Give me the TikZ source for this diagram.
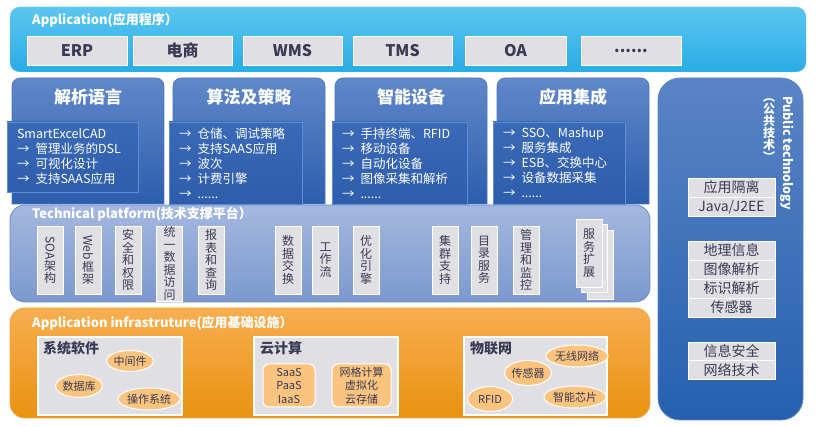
\documentclass[tikz,border=0pt]{standalone}
\usepackage{fontspec}
\setmainfont{Noto Sans CJK SC}
\usetikzlibrary{shapes.geometric}

\definecolor{barTop}{HTML}{5CC6F1}
\definecolor{barBot}{HTML}{29ACE4}
\definecolor{boxGray}{HTML}{E0E0E4}
\definecolor{inkDark}{HTML}{3A3A54}
\definecolor{tabTop}{HTML}{6088CA}
\definecolor{tabBot}{HTML}{2C5EAC}
\definecolor{listTop}{HTML}{3A6AB7}
\definecolor{listBot}{HTML}{2D5DAB}
\definecolor{listLine}{HTML}{5F8DD4}
\definecolor{platTop}{HTML}{A4B8DF}
\definecolor{platBot}{HTML}{7B98CE}
\definecolor{platLine}{HTML}{6A8BC8}
\definecolor{infraTop}{HTML}{F8AE50}
\definecolor{infraBot}{HTML}{E99210}
\definecolor{infraLine}{HTML}{F2A444}
\definecolor{ovalFill}{HTML}{FAC47E}
\definecolor{pubTop}{HTML}{5A84C6}
\definecolor{pubBot}{HTML}{2560AE}

\newcommand{\fsz}[2]{\fontsize{#1}{#2}\selectfont}
\newcommand{\listarrow}{→\hspace{6pt}}

\begin{document}
\begin{tikzpicture}[
    x=1pt, y=-1pt,
    titletext/.style={anchor=west, inner sep=0pt, text=white, font=\fsz{13}{13}\bfseries},
    appbox/.style={draw=white, line width=0.8pt, fill=boxGray, inner sep=0pt, minimum width=100pt, minimum height=29pt, text=inkDark, font=\fsz{16}{16}\bfseries},
    tabshade/.style={top color=tabTop, bottom color=tabBot, draw=tabBot!85!white, line width=0.6pt},
    tablabel/.style={text=white, font=\fsz{17}{17}\bfseries},
    listbox/.style={draw=listLine, line width=0.8pt, top color=listTop, bottom color=listBot, inner xsep=10pt, inner ysep=0pt, align=left, text=white, font=\fsz{12.5}{15}},
    vbox/.style={draw=white, line width=0.8pt, fill=boxGray, inner sep=0pt, minimum width=26pt, text width=24pt, align=center, text=inkDark, font=\fsz{12}{12.5}},
    groupbox/.style={draw=white, line width=1.2pt, fill=boxGray, inner sep=0pt, minimum width=144pt, minimum height=78pt},
    grouptitle/.style={anchor=west, inner sep=0pt, text=inkDark, font=\fsz{14}{14}\bfseries},
    oval/.style={ellipse, draw=white, line width=1pt, fill=ovalFill, inner sep=0pt, text=inkDark, font=\fsz{11}{11}},
    cloudbox/.style={rounded corners=6pt, draw=white, line width=1pt, fill=ovalFill, inner sep=0pt, align=center, text=inkDark, font=\fsz{11}{13.5}},
    pubrow/.style={draw=white, line width=0.8pt, fill=boxGray, inner sep=0pt, minimum width=87pt, minimum height=19pt, text=inkDark, font=\fsz{14}{14}}
]
    \useasboundingbox (0,0) rectangle (820,427);

    % application layer
    \node[rounded corners=10pt, top color=barTop, bottom color=barBot, draw=barTop, minimum width=796pt, minimum height=65pt] (appbar) at (408,39.5) {};
    \node[titletext] (apptitle) at (32,20) {Application(应用程序）};
    \node[appbox] (erp) at (77,50.5) {ERP};
    \node[appbox, minimum width=99pt] (ecom) at (182.5,50.5) {电商};
    \node[appbox, minimum width=99pt] (wms) at (292.5,50.5) {WMS};
    \node[appbox, minimum width=99pt] (tms) at (402.5,50.5) {TMS};
    \node[appbox, minimum width=101pt] (oa) at (515.5,50.5) {OA};
    \node[appbox] (moreapp) at (631,50.5) {......};

    % blue tabs
    \foreach \tx in {12,173,335,497} {
        \shade[tabshade] (\tx,204) -- (\tx,86) arc[start angle=180, end angle=270, radius=8]
            -- (\tx+144,78) arc[start angle=270, end angle=360, radius=8] -- (\tx+152,204) -- cycle;
    }
    \node[tablabel] (parse) at (88,97) {解析语言};
    \node[tablabel] (algo) at (249,97) {算法及策略};
    \node[tablabel] (device) at (411,97) {智能设备};
    \node[tablabel] (integ) at (573,97) {应用集成};

    % technical platform
    \node[rounded corners=15pt, top color=platTop, bottom color=platBot, draw=platLine, line width=0.8pt, minimum width=640pt, minimum height=97pt] (techplat) at (330,253.5) {};

    \node[listbox, text width=111pt, minimum height=70pt] (parselist) at (72.5,157) {SmartExcelCAD\\\listarrow 管理业务的DSL\\\listarrow 可视化设计\\\listarrow 支持SAAS应用};
    \node[listbox, text width=113pt, minimum height=82pt] (algolist) at (235.5,163) {\listarrow 仓储、调试策略\\\listarrow 支持SAAS应用\\\listarrow 波次\\\listarrow 计费引擎\\\listarrow ......};
    \node[listbox, text width=115pt, minimum height=82pt] (devicelist) at (399.5,163) {\listarrow 手持终端、RFID\\\listarrow 移动设备\\\listarrow 自动化设备\\\listarrow 图像采集和解析\\\listarrow ......};
    \node[listbox, text width=112pt, minimum height=82pt] (integlist) at (559,163) {\listarrow SSO、Mashup\\\listarrow 服务集成\\\listarrow ESB、交换中心\\\listarrow 设备数据采集\\\listarrow ......};

    \node[titletext] (techtitle) at (32,214) {Technical platform(技术支撑平台）};
    \node[vbox, minimum height=68pt] (soa) at (50,260) {\rotatebox{-90}{SOA}\\架\\构};
    \node[vbox, minimum height=68pt] (web) at (88,260) {\rotatebox{-90}{Web}\\框\\架};
    \node[vbox, minimum height=68pt] (secure) at (128,260) {安\\全\\和\\权\\限};
    \node[vbox, minimum height=75pt] (dataacc) at (169.5,263.5) {统\\一\\数\\据\\访\\问};
    \node[vbox, minimum height=68pt] (report) at (211,260) {报\\表\\和\\查\\询};
    \node[vbox, minimum height=68pt] (dataex) at (288,260) {数\\据\\交\\换};
    \node[vbox, minimum height=68pt] (flow) at (325.5,260) {工\\作\\流};
    \node[vbox, minimum height=68pt] (optim) at (366,260) {优\\化\\引\\擎};
    \node[vbox, minimum height=68pt] (cluster) at (445,260) {集\\群\\支\\持};
    \node[vbox, minimum height=68pt] (dirsvc) at (484,260) {目\\录\\服\\务};
    \node[vbox, minimum height=68pt] (monitor) at (526,260) {管\\理\\和\\监\\控};
    \node[vbox, minimum height=69pt] (page3) at (600,264.5) {};
    \node[vbox, minimum height=68pt] (page2) at (594,258) {};
    \node[vbox, minimum height=68pt] (svcext) at (589,253) {服\\务\\扩\\展};

    % application infrastructure
    \node[rounded corners=15pt, top color=infraTop, bottom color=infraBot, draw=infraLine, line width=0.8pt, minimum width=640pt, minimum height=110pt] (infra) at (330,363) {};
    \node[titletext] (infratitle) at (32,323) {Application infrastruture(应用基础设施）};

    \node[groupbox] (syssoft) at (110,376) {};
    \node[grouptitle] (syssofttitle) at (43,348) {系统软件};
    \node[oval, minimum width=46pt, minimum height=21pt] (middleware) at (130,361) {中间件};
    \node[oval, minimum width=45pt, minimum height=23pt] (database) at (79,386) {数据库};
    \node[oval, minimum width=58pt, minimum height=22pt] (opsys) at (149,399) {操作系统};

    \node[groupbox] (cloud) at (326,376) {};
    \node[grouptitle] (cloudtitle) at (260,348) {云计算};
    \node[cloudbox, minimum width=52pt, minimum height=43pt] (saas) at (289,385.5) {SaaS\\PaaS\\IaaS};
    \node[cloudbox, minimum width=59pt, minimum height=43pt] (grid) at (361.5,385.5) {网格计算\\虚拟化\\云存储};

    \node[groupbox, minimum width=143pt] (iot) at (535.5,376) {};
    \node[grouptitle] (iottitle) at (470,348) {物联网};
    \node[oval, minimum width=57pt, minimum height=22pt] (wireless) at (577,356) {无线网络};
    \node[oval, minimum width=45pt, minimum height=25pt] (sensor) at (528,373) {传感器};
    \node[oval, minimum width=45pt, minimum height=25pt] (rfid) at (490,399) {RFID};
    \node[oval, minimum width=58pt, minimum height=22pt] (chip) at (575,397) {智能芯片};

    % public technology
    \node[rounded corners=22pt, top color=pubTop, bottom color=pubBot, draw=pubTop, line width=0.8pt, minimum width=145pt, minimum height=342pt] (pubtech) at (730.5,249) {};
    \node[rotate=-90, text=white, font=\fsz{12.5}{12.5}\bfseries, inner sep=0pt] (pubtitle) at (787,153) {Public technology};
    \node[align=center, text=white, font=\fsz{12}{12}\bfseries, inner sep=0pt] (pubcn) at (769,130) {︵\\公\\共\\技\\术\\︶};

    \node[pubrow] (isolate) at (731.5,187.5) {应用隔离};
    \node[pubrow] (javaee) at (731.5,207) {Java/J2EE};
    \node[pubrow] (geo) at (731.5,250.5) {地理信息};
    \node[pubrow] (imgparse) at (731.5,269.5) {图像解析};
    \node[pubrow] (idparse) at (731.5,288.5) {标识解析};
    \node[pubrow] (pubsensor) at (731.5,307.5) {传感器};
    \node[pubrow] (infosec) at (731.5,351.5) {信息安全};
    \node[pubrow] (nettech) at (731.5,370) {网络技术};
\end{tikzpicture}
\end{document}
